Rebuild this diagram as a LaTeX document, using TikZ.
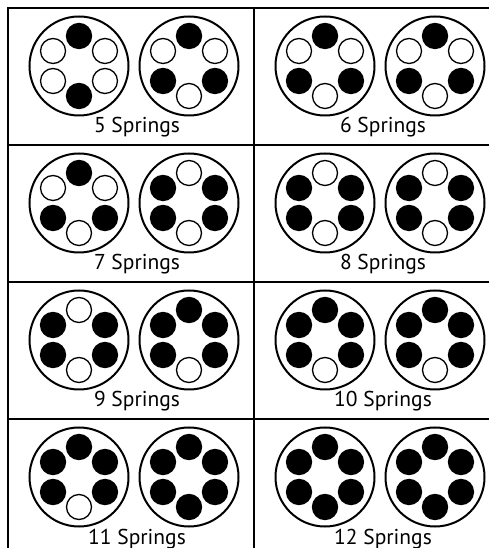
\documentclass[tikz,border=0pt]{standalone}
\usepackage{fontspec}
\setmainfont{PT Sans}
\usetikzlibrary{calc}
\begin{document}
\begin{tikzpicture}[x=1pt, y=1pt,
    holder/.style={circle, draw, line width=2pt, minimum size=99pt, inner sep=0pt},
    spring/.style={circle, draw, line width=1.3pt, minimum size=25pt, inner sep=0pt},
    springlabel/.style={anchor=base, inner sep=0pt, font=\fontsize{21.5}{26}\selectfont}]
    \useasboundingbox (0,0) rectangle (489,548);
    % table lines
    \draw[line width=1.5pt] (8,0) -- (8,540) -- (489,540);
    \draw[line width=1.5pt] (254,0) -- (254,540);
    \foreach \ly in {403,266,129}
        \draw[line width=1.5pt] (8,\ly) -- (489,\ly);
    % holders: column / row / springs / left pattern / right pattern
    % pattern order: top, upper right, lower right, bottom, lower left, upper left
    \foreach \c/\r/\n/\pa/\pb in {
        0/0/5/{1,0,0,1,0,0}/{1,0,1,0,1,0},
        1/0/6/{1,0,1,0,1,0}/{1,0,1,0,1,0},
        0/1/7/{1,0,1,0,1,0}/{0,1,1,0,1,1},
        1/1/8/{0,1,1,0,1,1}/{0,1,1,0,1,1},
        0/2/9/{0,1,1,0,1,1}/{1,1,1,0,1,1},
        1/2/10/{1,1,1,0,1,1}/{1,1,1,0,1,1},
        0/3/11/{1,1,1,0,1,1}/{1,1,1,1,1,1},
        1/3/12/{1,1,1,1,1,1}/{1,1,1,1,1,1}} {
        \pgfmathsetmacro{\cellx}{8+246*\c}
        \pgfmathsetmacro{\celly}{540-137*\r}
        \node[holder] (h\n a) at (\cellx+71,\celly-58) {};
        \node[holder] (h\n b) at (\cellx+181,\celly-58) {};
        \foreach \f [count=\k] in \pa {
            \pgfmathsetmacro{\fc}{\f==1 ? "black" : "white"}
            \node[spring, fill=\fc] (s\n a\k) at ($(h\n a)+(150-60*\k:30)$) {};
        }
        \foreach \f [count=\k] in \pb {
            \pgfmathsetmacro{\fc}{\f==1 ? "black" : "white"}
            \node[spring, fill=\fc] (s\n b\k) at ($(h\n b)+(150-60*\k:30)$) {};
        }
        \node[springlabel] (l\n) at (\cellx+129,\celly-125) {\n\ Springs};
    }
\end{tikzpicture}
\end{document}
